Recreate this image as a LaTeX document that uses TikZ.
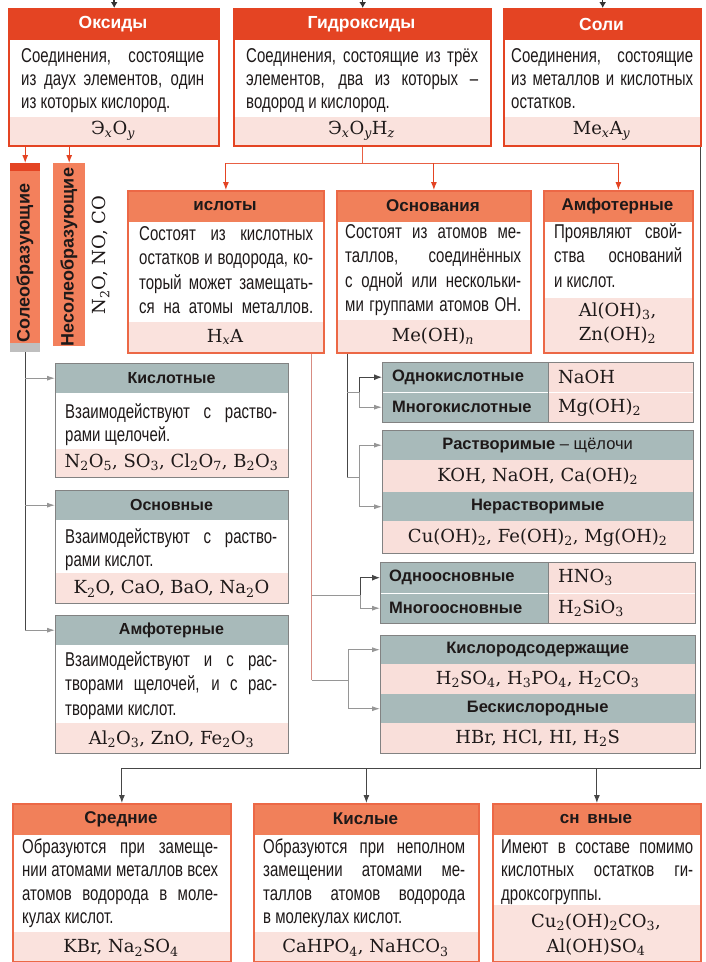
\documentclass[tikz,border=0pt]{standalone}
\usepackage{fontspec}
\setmainfont{Liberation Sans}[FakeStretch=0.75]
\newfontfamily\ttlf{Liberation Sans}
\newfontfamily\fmlf{DejaVu Serif}
\usetikzlibrary{arrows.meta}
\definecolor{topred}{RGB}{228,68,35}
\definecolor{salhead}{RGB}{241,128,90}
\definecolor{salframe}{RGB}{236,104,70}
\definecolor{pinkband}{RGB}{250,226,221}
\definecolor{greyhead}{RGB}{168,186,186}
\definecolor{greyframe}{RGB}{130,130,130}
\definecolor{tabpink}{RGB}{249,223,218}
\definecolor{lineg}{RGB}{70,70,70}
\definecolor{lightarr}{RGB}{150,150,150}
\definecolor{pinkline}{RGB}{215,140,130}
\definecolor{bodyc}{RGB}{30,25,25}
\definecolor{vboxc}{RGB}{243,128,92}
\newcommand\jline[1]{\hbox to\hsize{#1}}
\newcommand\lline[1]{\hbox{#1}}
\newcommand\para[3]{\vtop{\hsize=#1pt\fontsize{20}{#2}\selectfont #3}}
\newcommand\sbs[1]{\textsubscript{#1}}
\newcommand\isb[1]{\textsubscript{\itshape #1}}
\tikzset{
 frameT/.style={draw=topred, line width=2.4pt, inner sep=0pt, anchor=north west},
 frameS/.style={draw=salframe, line width=1.8pt, inner sep=0pt, anchor=north west},
 frameG/.style={draw=greyframe, line width=0.9pt, inner sep=0pt, anchor=north west},
 gcell/.style={fill=greyhead, inner sep=0pt, anchor=north west, text=bodyc, font=\ttlf\bfseries\fontsize{16.5}{18}\selectfont},
 pcell/.style={fill=tabpink, inner sep=0pt, anchor=north west, text=bodyc, font=\fmlf\fontsize{18}{20}\selectfont},
 ttlW/.style={text=white, font=\ttlf\bfseries\fontsize{17.5}{20}\selectfont},
 ttlD/.style={text=bodyc, font=\ttlf\bfseries\fontsize{17}{20}\selectfont},
 ttlG/.style={text=bodyc, font=\ttlf\bfseries\fontsize{16}{19}\selectfont},
 bodyt/.style={anchor=base west, inner sep=0pt, text=bodyc},
 fml/.style={font=\fmlf\fontsize{18}{22}\selectfont, text=bodyc, inner sep=0pt},
 tabl/.style={anchor=west, inner sep=0pt, text=bodyc, font=\ttlf\bfseries\fontsize{16.5}{18}\selectfont},
 tabv/.style={anchor=west, inner sep=0pt, text=bodyc, font=\fmlf\fontsize{18}{20}\selectfont},
 vtext/.style={rotate=90, text=bodyc, font=\ttlf\bfseries\fontsize{18}{20}\selectfont},
 redarr/.style={draw=topred, line width=1pt, -{Latex[length=8pt,width=6pt]}},
 redln/.style={draw=topred!85, line width=1pt},
 darkln/.style={draw=lineg, line width=1pt},
 darkarr/.style={draw=lineg, line width=1pt, -{Latex[length=8pt,width=6pt]}},
 greyln/.style={draw=lightarr, line width=0.9pt},
 greyarr/.style={draw=lightarr, line width=0.9pt, -{Latex[length=8pt,width=5pt]}},
 pinkln/.style={draw=pinkline, line width=1pt},
 toparr/.style={draw=black!80, line width=1.5pt, -{Latex[length=6pt,width=7pt]}}
}
\begin{document}
\begin{tikzpicture}[x=1pt,y=-1pt]
\useasboundingbox (0,0) rectangle (705,962);
\fill[white] (0,0) rectangle (705,962);

% ===== Top row =====
\fill[topred] (8,8) rectangle (218,40);
\fill[pinkband] (8,117) rectangle (218,145);
\node[ttlW] at (113,24) {Оксиды};
\node[bodyt] at (21,62) {\para{183}{23}{\jline{Соединения, состоящие}\jline{из даух элементов, один}\lline{из которых кислород.}}};
\node[fml] at (113,131) {Э\isb{x}O\isb{y}};
\node[frameT, minimum width=210, minimum height=137] (ox) at (8,8) {};

\fill[topred] (233,8) rectangle (490,40);
\fill[pinkband] (233,117) rectangle (490,145);
\node[ttlW] at (361.5,24) {Гидроксиды};
\node[bodyt] at (246,62) {\para{232}{23}{\jline{Соединения, состоящие из трёх}\jline{элементов, два из которых –}\lline{водород и кислород.}}};
\node[fml] at (361.5,131) {Э\isb{x}O\isb{y}H\isb{z}};
\node[frameT, minimum width=257, minimum height=137] (hyd) at (233,8) {};

\fill[topred] (503,8) rectangle (700,40);
\fill[pinkband] (503,117) rectangle (700,145);
\node[ttlW] at (601.5,24) {Соли};
\node[bodyt] at (511,62) {\para{182}{23}{\jline{Соединения, состоящие}\jline{из металлов и кислотных}\lline{остатков.}}};
\node[fml] at (601.5,131) {Me\isb{x}A\isb{y}};
\node[frameT, minimum width=197, minimum height=137] (soli) at (503,8) {};

% ===== Vertical boxes =====
\node[fill=vboxc, inner sep=0pt, anchor=north west, minimum width=30, minimum height=189] (sol) at (10,163) {};
\fill[topred] (10,163) rectangle (40,171);
\fill[black!25] (10,343) rectangle (40,352);
\node[vtext] at (25,263) {Солеобразующие};
\node[fill=vboxc, inner sep=0pt, anchor=north west, minimum width=32, minimum height=183] (nesol) at (53,163) {};
\node[vtext] at (69,257) {Несолеобразующие};
\node[fml, rotate=90] at (101,255) {N\sbs{2}O, NO, CO};

% ===== Second row =====
\fill[salhead] (127,190) rectangle (323,222);
\fill[pinkband] (127,322) rectangle (323,352);
\node[ttlD] at (225,206) {ислоты};
\node[bodyt] at (139,240) {\para{174}{24.5}{\jline{Состоят из кислотных}\jline{остатков и водорода, ко-}\jline{торый может замещать-}\jline{ся на атомы металлов.}}};
\node[fml] at (225,337) {H\isb{x}A};
\node[frameS, minimum width=196, minimum height=162] (ac) at (127,190) {};

\fill[salhead] (336,190) rectangle (530,222);
\fill[pinkband] (336,320) rectangle (530,352);
\node[ttlD] at (433,206) {Основания};
\node[bodyt] at (345,238) {\para{176}{24.5}{\jline{Состоят из атомов ме-}\jline{таллов, соединённых}\jline{с одной или нескольки-}\jline{ми группами атомов ОН.}}};
\node[fml] at (433,336) {Me(OH)\isb{n}};
\node[frameS, minimum width=194, minimum height=162] (bas) at (336,190) {};

\fill[salhead] (543,190) rectangle (692,222);
\fill[pinkband] (543,298) rectangle (692,352);
\node[ttlD] at (617.5,206) {Амфотерные};
\node[bodyt] at (554,238) {\para{128}{24.5}{\jline{Проявляют свой-}\jline{ства оснований}\lline{и кислот.}}};
\node[fml] at (617.5,311) {Al(OH)\sbs{3},};
\node[fml] at (617.5,335) {Zn(OH)\sbs{2}};
\node[frameS, minimum width=149, minimum height=162] (amf) at (543,190) {};

% ===== Oxide classes (left) =====
\node[gcell, minimum width=233, minimum height=30] (kislotH) at (55,363) {};
\fill[pinkband] (55,449) rectangle (288,477);
\node[ttlG] at (171.5,378) {Кислотные};
\node[bodyt] at (65,418) {\para{212}{23}{\jline{Взаимодействуют с раство-}\lline{рами щелочей.}}};
\node[fml] at (171.5,462) {N\sbs{2}O\sbs{5}, SO\sbs{3}, Cl\sbs{2}O\sbs{7}, B\sbs{2}O\sbs{3}};
\node[frameG, minimum width=233, minimum height=114] (kislot) at (55,363) {};

\node[gcell, minimum width=233, minimum height=30] (osnH) at (55,490) {};
\fill[pinkband] (55,573) rectangle (288,603);
\node[ttlG] at (171.5,505) {Основные};
\node[bodyt] at (65,543) {\para{212}{23}{\jline{Взаимодействуют с раство-}\lline{рами кислот.}}};
\node[fml] at (171.5,589) {K\sbs{2}O, CaO, BaO, Na\sbs{2}O};
\node[frameG, minimum width=233, minimum height=113] (osn) at (55,490) {};

\node[gcell, minimum width=233, minimum height=30] (amfH) at (55,615) {};
\fill[pinkband] (55,723) rectangle (288,753);
\node[ttlG] at (171.5,630) {Амфотерные};
\node[bodyt] at (65,666) {\para{212}{24.5}{\jline{Взаимодействуют и с рас-}\jline{творами щелочей, и с рас-}\lline{творами кислот.}}};
\node[fml] at (171.5,739) {Al\sbs{2}O\sbs{3}, ZnO, Fe\sbs{2}O\sbs{3}};
\node[frameG, minimum width=233, minimum height=138] (amfo) at (55,615) {};

% ===== Tables (right) =====
\node[gcell, minimum width=166, minimum height=30] (t1a) at (382,362) {};
\node[pcell, minimum width=145, minimum height=30] (t1av) at (548,362) {};
\node[gcell, minimum width=166, minimum height=30] (t1b) at (382,392) {};
\node[pcell, minimum width=145, minimum height=30] (t1bv) at (548,392) {};
\draw[white, line width=0.8pt] (t1a.south west) -- (t1av.south east);
\draw[greyframe, line width=0.6pt] (t1a.north east) -- (t1b.south east);
\node[tabl] at ([xshift=10pt]t1a.west) {Однокислотные};
\node[tabv] at ([xshift=10pt]t1av.west) {NaOH};
\node[tabl] at ([xshift=10pt]t1b.west) {Многокислотные};
\node[tabv] at ([xshift=10pt]t1bv.west) {Mg(OH)\sbs{2}};
\node[frameG, minimum width=311, minimum height=60] (t1) at (382,362) {};

\node[gcell, minimum width=311, minimum height=30] (t2a) at (382,430) {Растворимые {\mdseries – щёлочи}};
\node[pcell, minimum width=311, minimum height=32] (t2b) at (382,460) {KOH, NaOH, Ca(OH)\sbs{2}};
\node[gcell, minimum width=311, minimum height=29] (t2c) at (382,492) {Нерастворимые};
\node[pcell, minimum width=311, minimum height=32] (t2d) at (382,521) {Cu(OH)\sbs{2}, Fe(OH)\sbs{2}, Mg(OH)\sbs{2}};
\node[frameG, minimum width=311, minimum height=123] (t2) at (382,430) {};

\node[gcell, minimum width=168, minimum height=31] (t3a) at (380,562) {};
\node[pcell, minimum width=147, minimum height=31] (t3av) at (548,562) {};
\node[gcell, minimum width=168, minimum height=30] (t3b) at (380,593) {};
\node[pcell, minimum width=147, minimum height=30] (t3bv) at (548,593) {};
\draw[white, line width=0.8pt] (t3a.south west) -- (t3av.south east);
\draw[greyframe, line width=0.6pt] (t3a.north east) -- (t3b.south east);
\node[tabl] at ([xshift=9pt]t3a.west) {Одноосновные};
\node[tabv] at ([xshift=10pt]t3av.west) {HNO\sbs{3}};
\node[tabl] at ([xshift=9pt]t3b.west) {Многоосновные};
\node[tabv] at ([xshift=10pt]t3bv.west) {H\sbs{2}SiO\sbs{3}};
\node[frameG, minimum width=315, minimum height=61] (t3) at (380,562) {};

\node[gcell, minimum width=315, minimum height=29] (t4a) at (380,635) {Кислородсодержащие};
\node[pcell, minimum width=315, minimum height=30] (t4b) at (380,664) {H\sbs{2}SO\sbs{4}, H\sbs{3}PO\sbs{4}, H\sbs{2}CO\sbs{3}};
\node[gcell, minimum width=315, minimum height=29] (t4c) at (380,694) {Бескислородные};
\node[pcell, minimum width=315, minimum height=30] (t4d) at (380,723) {HBr, HCl, HI, H\sbs{2}S};
\node[frameG, minimum width=315, minimum height=118] (t4) at (380,635) {};

% ===== Bottom row =====
\fill[salhead] (12,803) rectangle (230,835);
\fill[pinkband] (12,932) rectangle (230,962);
\node[ttlD] at (121,819) {Средние};
\node[bodyt] at (22,853) {\para{196}{23.5}{\jline{Образуются при замеще-}\jline{нии атомами металлов всех}\jline{атомов водорода в моле-}\lline{кулах кислот.}}};
\node[fml] at (121,948) {KBr, Na\sbs{2}SO\sbs{4}};
\node[frameS, minimum width=218, minimum height=158] (sred) at (12,803) {};

\fill[salhead] (253,803) rectangle (478,835);
\fill[pinkband] (253,932) rectangle (478,962);
\node[ttlD] at (365.5,819) {Кислые};
\node[bodyt] at (263,853) {\para{202}{23.5}{\jline{Образуются при неполном}\jline{замещении атомами ме-}\jline{таллов атомов водорода}\lline{в молекулах кислот.}}};
\node[fml] at (365.5,948) {CaHPO\sbs{4}, NaHCO\sbs{3}};
\node[frameS, minimum width=225, minimum height=158] (skis) at (253,803) {};

\fill[salhead] (492,803) rectangle (700,835);
\fill[pinkband] (492,905) rectangle (700,962);
\node[ttlD] at (596,819) {сн\hspace{0.45em}вные};
\node[bodyt] at (501,853) {\para{192}{23.5}{\jline{Имеют в составе помимо}\jline{кислотных остатков ги-}\lline{дроксогруппы.}}};
\node[fml] at (596,922) {Cu\sbs{2}(OH)\sbs{2}CO\sbs{3},};
\node[fml] at (596,947) {Al(OH)SO\sbs{4}};
\node[frameS, minimum width=208, minimum height=158] (sosn) at (492,803) {};

% ===== Connectors =====
\draw[toparr] ([yshift=9pt]ox.north) -- (ox.north);
\draw[toparr] ([yshift=9pt]hyd.north) -- (hyd.north);
\draw[toparr] ([yshift=9pt]soli.north) -- (soli.north);

\draw[redarr] (ox.south -| sol.north) -- (sol.north);
\draw[redarr] (ox.south -| nesol.north) -- (nesol.north);

\coordinate (hj) at (0,163);
\draw[redln] (hyd.south) -- (hyd.south |- hj);
\draw[redln] (ac.north |- hj) -- (amf.north |- hj);
\draw[redarr] (ac.north |- hj) -- (ac.north);
\draw[redarr] (bas.north |- hj) -- (bas.north);
\draw[redarr] (amf.north |- hj) -- (amf.north);

\coordinate (sj) at (0,768);
\draw[darkln] ([xshift=-2pt]soli.south east) |- (sred.north |- sj);
\draw[darkarr] (sred.north |- sj) -- (sred.north);
\draw[darkarr] (skis.north |- sj) -- (skis.north);
\draw[darkarr] (sosn.north |- sj) -- (sosn.north);

\draw[darkln] (sol.south) -- (sol.south |- amfH.west);
\draw[greyarr] (sol.south |- kislotH.west) -- (kislotH.west);
\draw[greyarr] (sol.south |- osnH.west) -- (osnH.west);
\draw[greyarr] (sol.south |- amfH.west) -- (amfH.west);

\coordinate (bL) at ([xshift=11pt]bas.south west);
\coordinate (b1) at (359,392);
\coordinate (b2) at (359,477);
\draw[darkln] (bL) -- (bL |- b2);
\draw[greyln] (bL |- b2) -- (b2);
\draw[greyln] (bL |- b1) -- (b1);
\draw[darkln] (b1 |- t1a.west) -- (b1);
\draw[greyln] (b1) -- (b1 |- t1b.west);
\draw[darkarr] (b1 |- t1a.west) -- (t1a.west);
\draw[greyarr] (b1 |- t1b.west) -- (t1b.west);
\draw[greyln] (b2 |- t2a.west) -- (b2 |- t2c.west);
\draw[greyarr] (b2 |- t2a.west) -- (t2a.west);
\draw[greyarr] (b2 |- t2c.west) -- (t2c.west);

\coordinate (aL) at ([xshift=-13pt]ac.south east);
\coordinate (a1) at (360,595);
\coordinate (a2) at (348,680);
\draw[pinkln] (aL) -- (aL |- a2);
\draw[greyln] (aL |- a2) -- (a2);
\draw[greyln] (aL |- a1) -- (a1);
\draw[darkln] (a1 |- t3a.west) -- (a1);
\draw[greyln] (a1) -- (a1 |- t3b.west);
\draw[darkarr] (a1 |- t3a.west) -- (t3a.west);
\draw[greyarr] (a1 |- t3b.west) -- (t3b.west);
\draw[greyln] (a2 |- t4a.west) -- (a2 |- t4c.west);
\draw[greyarr] (a2 |- t4a.west) -- (t4a.west);
\draw[greyarr] (a2 |- t4c.west) -- (t4c.west);
\end{tikzpicture}
\end{document}
